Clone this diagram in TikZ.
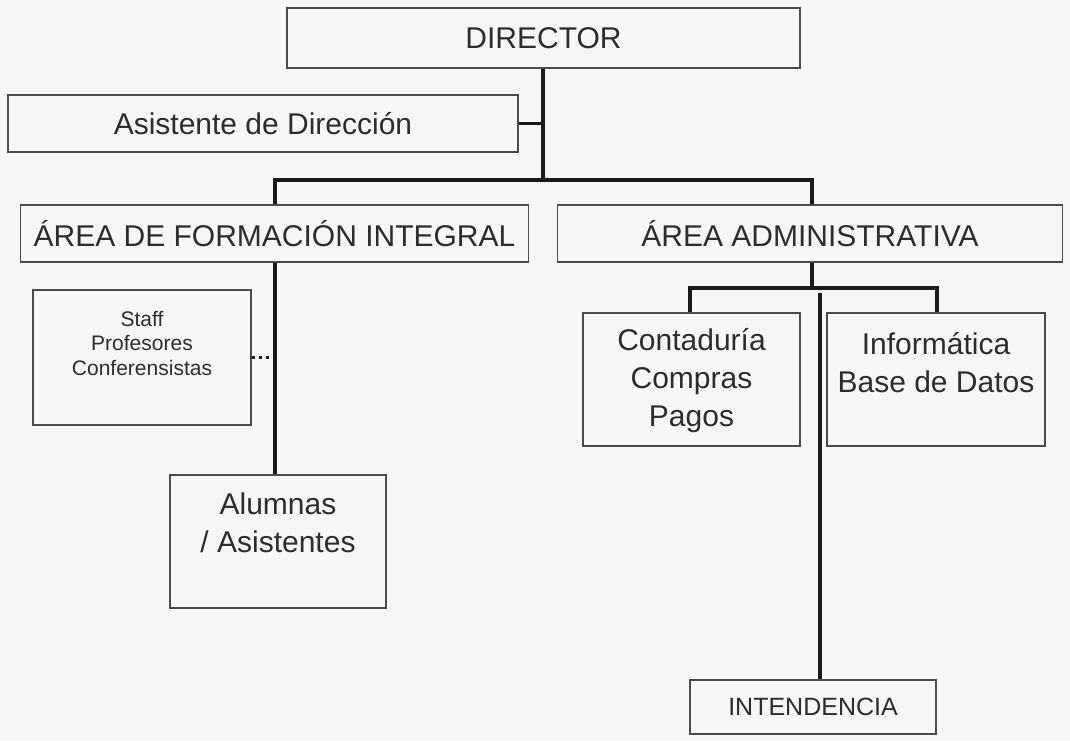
\documentclass[tikz,border=0pt]{standalone}
\usepackage{fontspec}
\setmainfont{Liberation Sans}
\usetikzlibrary{calc}
\definecolor{bgc}{RGB}{244,246,248}
\definecolor{txt}{RGB}{45,45,45}
\definecolor{edgec}{RGB}{75,75,75}
\definecolor{connc}{RGB}{25,25,25}
\begin{document}
\begin{tikzpicture}[x=1pt,y=-1pt,
  box/.style={draw=edgec, line width=1.3pt, inner sep=0pt, text=txt},
  big/.style={font=\fontsize{30}{38}\selectfont, text=txt, align=center},
  mid/.style={font=\fontsize{25}{30}\selectfont, text=txt, align=center},
  small/.style={font=\fontsize{21}{24.5}\selectfont, text=txt, align=center},
  conn/.style={draw=connc, line width=3.6pt}]
\fill[bgc] (0,0) rectangle (1070,740);
\useasboundingbox (0,0) rectangle (1070,740);
% boxes
\node[box, big, minimum width=513pt, minimum height=60pt] (dir) at (543.5,38) {DIRECTOR};
\node[box, big, minimum width=510pt, minimum height=57pt] (asis) at (263,123.5) {Asistente de Dirección};
\node[box, big, minimum width=508pt, minimum height=57pt] (form) at (274.5,233.5) {ÁREA DE FORMACIÓN INTEGRAL};
\node[box, big, minimum width=505pt, minimum height=57pt] (admin) at (810,233.5) {ÁREA ADMINISTRATIVA};
\node[box, minimum width=218pt, minimum height=135pt] (staff) at (142,357.5) {};
\node[small] (stafft) at (142,343) {Staff\\Profesores\\Conferensistas};
\node[box, minimum width=216pt, minimum height=133pt] (alum) at (278,541.5) {};
\node[big] (alumt) at (278,523) {Alumnas\\/ Asistentes};
\node[box, minimum width=217pt, minimum height=133pt] (cont) at (691.5,379.5) {};
\node[big] (contt) at (691.5,381) {Contaduría\\Compras\\Pagos};
\node[box, minimum width=218pt, minimum height=133pt] (info) at (936,379.5) {};
\node[big] (infot) at (936,363) {Informática\\Base de Datos};
\node[box, mid, minimum width=246pt, minimum height=54pt] (inten) at (813,707) {INTENDENCIA};
% connectors
\coordinate (bus) at (543,180);
\coordinate (fj) at (275,180);
\coordinate (aj) at (812,180);
\draw[conn] (dir.south -| bus) -- (bus);
\draw[conn] (asis.east) -- (asis.east -| bus);
\draw[conn] (fj |- form.north) -- (fj) -- (aj) -- (aj |- admin.north);
\draw[conn] (fj |- form.south) -- (fj |- alum.north);
\draw[connc, line width=3.6pt, dash pattern=on 3.5pt off 3.5pt] (staff.east) -- (staff.east -| fj);
\coordinate (abus) at (812,288);
\coordinate (cj) at (690,288);
\coordinate (ij) at (937,288);
\draw[conn] (aj |- admin.south) -- (abus);
\draw[conn] (cj |- cont.north) -- (cj) -- (ij) -- (ij |- info.north);
\coordinate (itop) at (820,293);
\draw[conn] (itop) -- (itop |- inten.north);
\end{tikzpicture}
\end{document}
